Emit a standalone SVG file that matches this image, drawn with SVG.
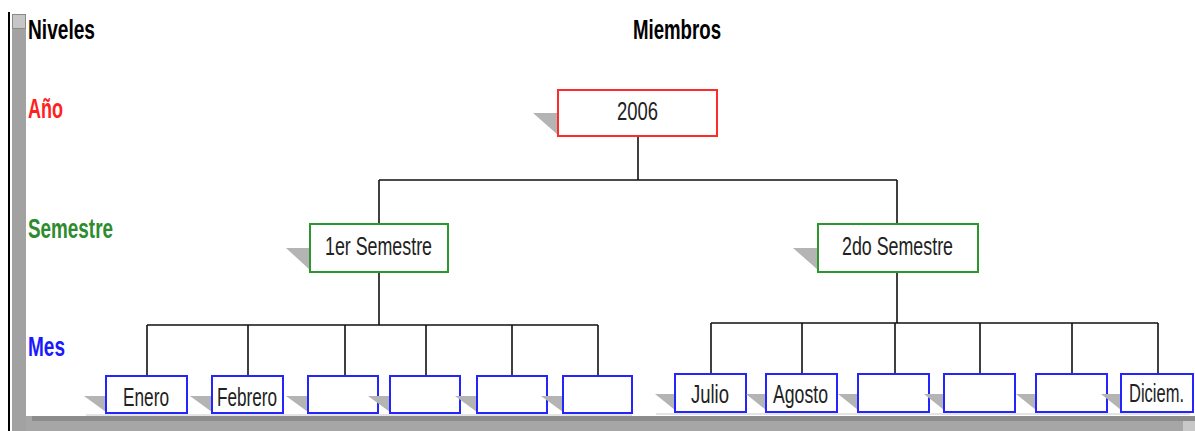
<svg xmlns="http://www.w3.org/2000/svg" width="1195" height="431" viewBox="0 0 1195 431">
  <style>
    .lvl { font-family: "Liberation Sans", Arial, sans-serif; font-weight: bold; font-size: 27px; }
    .lbl { font-family: "Liberation Sans", Arial, sans-serif; font-size: 26px; fill: #222; }
    .box { fill: #fff; stroke-width: 2; }
    .red { stroke: #ff2a2a; }
    .green { stroke: #2e962e; }
    .blue { stroke: #2424ff; }
    .shadow { fill: #b4b4b4; }
    .conn { fill: none; stroke: #111; stroke-width: 1.6; }
  </style>

  <!-- page frame -->
  <rect x="0" y="0" width="1195" height="431" fill="#fff"/>
  <rect x="8" y="12" width="2" height="419" fill="#000"/>
  <rect x="12" y="14" width="14" height="417" fill="#a2a2a2"/>
  <rect x="12.5" y="14.5" width="13" height="14" fill="#c6c6c6" stroke="#8a8a8a" stroke-width="1"/>
  <rect x="26" y="416" width="1169" height="15" fill="#a6a6a6"/>
  <rect x="32" y="416" width="1163" height="5" fill="#8c8c8c"/>
  <rect x="1183" y="421" width="12" height="10" fill="#c8c8c8"/>

  <!-- level titles -->
  <text class="lvl" x="28" y="39" fill="#000" textLength="67" lengthAdjust="spacingAndGlyphs">Niveles</text>
  <text class="lvl" x="633" y="39" fill="#000" textLength="88" lengthAdjust="spacingAndGlyphs">Miembros</text>
  <text class="lvl" x="28" y="118" fill="#ff2020" textLength="35" lengthAdjust="spacingAndGlyphs">Año</text>
  <text class="lvl" x="28" y="238" fill="#2e8b2e" textLength="85" lengthAdjust="spacingAndGlyphs">Semestre</text>
  <text class="lvl" x="28" y="356" fill="#1a1aff" textLength="37" lengthAdjust="spacingAndGlyphs">Mes</text>

  <!-- connectors -->
  <g id="connectors" class="conn">
    <path d="M638 136 V180 M379 180 H897 M379 180 V224 M897 180 V224"/>
    <path d="M379 272 V325 M147 325 H598 M147 325 V376 M248 325 V376 M345 325 V376 M426 325 V376 M512 325 V376 M598 325 V376"/>
    <path d="M897 272 V323 M711 323 H1158 M711 323 V374 M802 323 V374 M895 323 V374 M980 323 V374 M1072 323 V374 M1158 323 V374"/>
  </g>

  <!-- faint shadow baselines under the months -->
  <path d="M86 415 H632 M656 414 H1190" stroke="#dcdcdc" stroke-width="1.5"/>

  <!-- year -->
  <g id="n2006">
    <polygon class="shadow" points="533,113 558,113 558,135"/>
    <rect class="box red" x="558" y="90" width="159" height="46"/>
    <text class="lbl" x="617" y="120" textLength="41" lengthAdjust="spacingAndGlyphs">2006</text>
  </g>

  <!-- semesters -->
  <g id="s1">
    <polygon class="shadow" points="286,248 310,248 310,270"/>
    <rect class="box green" x="310" y="224" width="138" height="48"/>
    <text class="lbl" x="325" y="255" textLength="107" lengthAdjust="spacingAndGlyphs">1er Semestre</text>
  </g>
  <g id="s2">
    <polygon class="shadow" points="793,248 818,248 818,270"/>
    <rect class="box green" x="818" y="224" width="160" height="48"/>
    <text class="lbl" x="842" y="255" textLength="111" lengthAdjust="spacingAndGlyphs">2do Semestre</text>
  </g>

  <!-- months, first semester -->
  <g id="m1">
    <polygon class="shadow" points="84,396 106,396 106,412"/>
    <rect class="box blue" x="106" y="376" width="81" height="37"/>
    <text class="lbl" x="123" y="406" textLength="46" lengthAdjust="spacingAndGlyphs">Enero</text>
  </g>
  <g id="m2">
    <polygon class="shadow" points="190,396 212,396 212,412"/>
    <rect class="box blue" x="212" y="376" width="71" height="37"/>
    <text class="lbl" x="217" y="406" textLength="60" lengthAdjust="spacingAndGlyphs">Febrero</text>
  </g>
  <g id="m3">
    <polygon class="shadow" points="286,396 308,396 308,412"/>
    <rect class="box blue" x="308" y="376" width="70" height="37"/>
  </g>
  <g id="m4">
    <polygon class="shadow" points="368,396 390,396 390,412"/>
    <rect class="box blue" x="390" y="376" width="70" height="37"/>
  </g>
  <g id="m5">
    <polygon class="shadow" points="455,396 477,396 477,412"/>
    <rect class="box blue" x="477" y="376" width="70" height="37"/>
  </g>
  <g id="m6">
    <polygon class="shadow" points="541,396 563,396 563,412"/>
    <rect class="box blue" x="563" y="376" width="69" height="37"/>
  </g>

  <!-- months, second semester -->
  <g id="m7">
    <polygon class="shadow" points="655,394 675,394 675,410"/>
    <rect class="box blue" x="675" y="374" width="71" height="38"/>
    <text class="lbl" x="691" y="403" textLength="38" lengthAdjust="spacingAndGlyphs">Julio</text>
  </g>
  <g id="m8">
    <polygon class="shadow" points="746,394 766,394 766,410"/>
    <rect class="box blue" x="766" y="374" width="71" height="38"/>
    <text class="lbl" x="773" y="403" textLength="55" lengthAdjust="spacingAndGlyphs">Agosto</text>
  </g>
  <g id="m9">
    <polygon class="shadow" points="838,394 858,394 858,410"/>
    <rect class="box blue" x="858" y="374" width="71" height="38"/>
  </g>
  <g id="m10">
    <polygon class="shadow" points="924,394 944,394 944,410"/>
    <rect class="box blue" x="944" y="374" width="71" height="38"/>
  </g>
  <g id="m11">
    <polygon class="shadow" points="1016,394 1036,394 1036,410"/>
    <rect class="box blue" x="1036" y="374" width="71" height="38"/>
  </g>
  <g id="m12">
    <polygon class="shadow" points="1101,394 1121,394 1121,410"/>
    <rect class="box blue" x="1121" y="374" width="72" height="38"/>
    <text class="lbl" x="1129" y="402" font-size="22" textLength="55" lengthAdjust="spacingAndGlyphs">Diciem.</text>
  </g>
</svg>
